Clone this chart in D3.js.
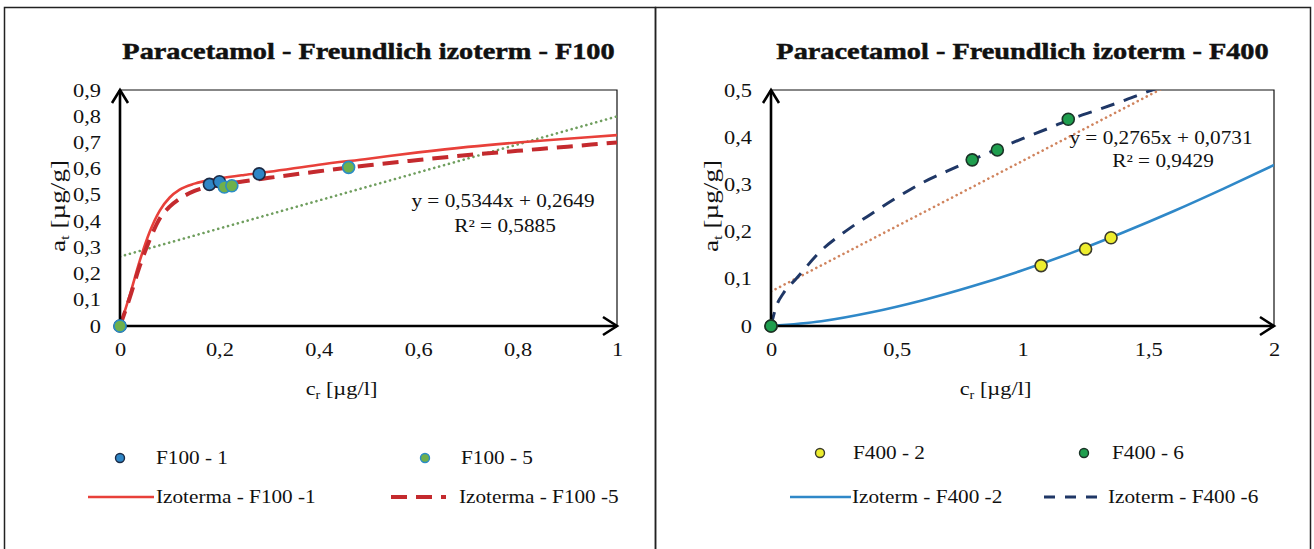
<!DOCTYPE html>
<html><head><meta charset="utf-8">
<script src="https://cdn.jsdelivr.net/npm/d3@7"></script>
<style>body{margin:0;background:#fff}svg{display:block}</style>
</head><body>
<svg id="chart" width="1314" height="549"></svg>
<script>
// ---- F100 panel data ----
const f100XTicks = [0, 0.2, 0.4, 0.6, 0.8, 1];
const f100YTicks = [0, 0.1, 0.2, 0.3, 0.4, 0.5, 0.6, 0.7, 0.8, 0.9];
const f100Series1 = [[0, 0], [0.18, 0.54], [0.2, 0.55], [0.28, 0.58]];
const f100Series5 = [[0, 0], [0.21, 0.53], [0.225, 0.535], [0.46, 0.605]];
const f100Izo1 = [[0,0],[0.02,0.12],[0.04,0.25],[0.06,0.36],[0.08,0.44],[0.1,0.49],[0.12,0.52],[0.15,0.543],[0.2,0.562],[0.25,0.576],[0.3,0.588],[0.4,0.615],[0.5,0.638],[0.6,0.662],[0.7,0.683],[0.8,0.700],[0.9,0.714],[1.0,0.728]];
const f100Izo5 = [[0,0],[0.02,0.11],[0.04,0.23],[0.06,0.33],[0.08,0.41],[0.1,0.455],[0.12,0.485],[0.15,0.515],[0.2,0.537],[0.25,0.552],[0.3,0.565],[0.4,0.59],[0.5,0.613],[0.6,0.633],[0.7,0.652],[0.8,0.668],[0.9,0.684],[1.0,0.70]];
const f100Trend = { slope: 0.5344, intercept: 0.2649, r2: 0.5885 };

// ---- F400 panel data ----
const f400XTicks = [0, 0.5, 1, 1.5, 2];
const f400YTicks = [0, 0.1, 0.2, 0.3, 0.4, 0.5];
const f400Series2 = [[0, 0], [1.074, 0.128], [1.251, 0.163], [1.352, 0.187]];
const f400Series6 = [[0, 0], [0.80, 0.352], [0.90, 0.373], [1.182, 0.438]];
const f400Izo2 = [[0,0],[0.2,0.010],[0.4,0.029],[0.6,0.054],[0.8,0.084],[1.0,0.118],[1.2,0.156],[1.4,0.198],[1.6,0.243],[1.8,0.291],[2.0,0.341]];
const f400Izo6 = [[0,0],[0.02,0.04],[0.05,0.07],[0.1,0.10],[0.2,0.16],[0.3,0.202],[0.4,0.238],[0.5,0.272],[0.6,0.303],[0.7,0.328],[0.8,0.352],[0.9,0.375],[1.0,0.397],[1.1,0.418],[1.2,0.44],[1.3,0.458],[1.4,0.477],[1.5,0.497],[1.6,0.515]];
const f400Trend = { slope: 0.2765, intercept: 0.0731, r2: 0.9429 };

const SERIF = "'Liberation Serif','Times New Roman',serif";
const SX = 1.18; // horizontal glyph stretch used for the labels
const svg = d3.select("#chart");
const fmt = d => String(d).replace(".", ",");

// panel frames
svg.append("rect").attr("x", 4.5).attr("y", 7.5).attr("width", 651).attr("height", 560)
  .attr("fill", "none").attr("stroke", "#222").attr("stroke-width", 1.5);
svg.append("rect").attr("x", 655.5).attr("y", 7.5).attr("width", 655).attr("height", 560)
  .attr("fill", "none").attr("stroke", "#222").attr("stroke-width", 1.5);

function label(g, x, y, str, size, opts = {}) {
  const t = g.append("text")
    .attr("transform", `translate(${x},${y}) scale(${SX},1)`)
    .attr("font-family", SERIF).attr("font-size", size)
    .attr("text-anchor", opts.anchor || "start")
    .attr("font-weight", opts.bold ? "bold" : "normal")
    .attr("fill", "#111");
  if (opts.bold) t.attr("stroke", "#111").attr("stroke-width", 0.5);
  t.text(str);
  return t;
}

function panel(cfg) {
  const g = svg.append("g");
  const x = d3.scaleLinear().domain(cfg.xDomain).range([cfg.x0, cfg.x1]);
  const y = d3.scaleLinear().domain(cfg.yDomain).range([cfg.y1, cfg.y0]);
  const clipId = "clip" + cfg.id;
  svg.append("clipPath").attr("id", clipId).append("rect")
    .attr("x", cfg.x0).attr("y", cfg.y0).attr("width", cfg.x1 - cfg.x0).attr("height", cfg.y1 - cfg.y0);

  // title
  label(g, (cfg.x0 + cfg.x1) / 2, 59, cfg.title, 24, { anchor: "middle", bold: true });

  // plot box (thin top/right edges)
  g.append("path").attr("d", `M${cfg.x0},${cfg.y0}H${cfg.x1}V${cfg.y1}`)
    .attr("fill", "none").attr("stroke", "#111").attr("stroke-width", 1.2);

  // tick labels
  const ax = g.append("g").attr("transform", `translate(${cfg.x0},0)`)
    .call(d3.axisLeft(y).tickValues(cfg.yTicks).tickSize(0).tickPadding(19).tickFormat(fmt));
  const ay = g.append("g").attr("transform", `translate(0,${cfg.y1})`)
    .call(d3.axisBottom(x).tickValues(cfg.xTicks).tickSize(0).tickPadding(17).tickFormat(fmt));
  [ax, ay].forEach(a => {
    a.select(".domain").remove();
    a.selectAll("text").attr("font-family", SERIF).attr("font-size", 19).attr("fill", "#111");
  });
  ax.selectAll("text").attr("x", -19 / SX).attr("transform", `scale(${SX},1)`);
  ay.selectAll("text").attr("transform", `scale(${SX},1)`);

  // axis titles
  const yt = g.append("text")
    .attr("transform", `translate(${cfg.yLabelX},${(cfg.y0 + cfg.y1) / 2 - 2}) rotate(-90)`)
    .attr("font-family", SERIF).attr("font-size", 21).attr("text-anchor", "middle").attr("fill", "#111")
    .attr("textLength", 92).attr("lengthAdjust", "spacingAndGlyphs");
  yt.append("tspan").text("a");
  yt.append("tspan").attr("font-size", 13).attr("dy", 4).text("t");
  yt.append("tspan").attr("dy", -4).text(" [µg/g]");

  const xt = g.append("text")
    .attr("transform", `translate(${(cfg.x0 + cfg.x1) / 2 - 27},395) scale(${SX},1)`)
    .attr("font-family", SERIF).attr("font-size", 19).attr("text-anchor", "middle").attr("fill", "#111");
  xt.append("tspan").text("c");
  xt.append("tspan").attr("font-size", 12).attr("dy", 4).text("r");
  xt.append("tspan").attr("dy", -4).text(" [µg/l]");

  const plot = g.append("g").attr("clip-path", `url(#${clipId})`);
  const line = d3.line().x(d => x(d[0])).y(d => y(d[1])).curve(d3.curveMonotoneX);

  // linear trend line from the stated regression
  const tr = cfg.trend;
  const tx = [cfg.xDomain[0], cfg.xDomain[1]];
  plot.append("path")
    .attr("d", d3.line().x(d => x(d)).y(d => y(tr.slope * d + tr.intercept))(tx))
    .attr("fill", "none").attr("stroke", cfg.trendColor).attr("stroke-width", 2.6)
    .attr("stroke-dasharray", "0.1,5").attr("stroke-linecap", "round");

  cfg.curves.forEach(c => {
    plot.append("path").attr("d", line(c.data)).attr("fill", "none")
      .attr("stroke", c.color).attr("stroke-width", c.width)
      .attr("stroke-dasharray", c.dash || null);
  });

  // axes with open arrowheads
  g.append("path").attr("d", `M${cfg.x0},${cfg.y1 + 1}V${cfg.y0}M${cfg.x0},${cfg.y1}H${cfg.x1}`)
    .attr("stroke", "#000").attr("stroke-width", 2.6).attr("fill", "none");
  g.append("path")
    .attr("d", `M${cfg.x0 - 8},${cfg.y0 + 13}L${cfg.x0},${cfg.y0}L${cfg.x0 + 8},${cfg.y0 + 13}` +
               `M${cfg.x1 - 14},${cfg.y1 - 9}L${cfg.x1},${cfg.y1}L${cfg.x1 - 14},${cfg.y1 + 9}`)
    .attr("stroke", "#000").attr("stroke-width", 2.6).attr("fill", "none");

  // markers
  cfg.points.forEach(p => {
    g.append("g").selectAll("circle").data(p.data).join("circle")
      .attr("cx", d => x(d[0])).attr("cy", d => y(d[1])).attr("r", 6)
      .attr("fill", p.fill).attr("stroke", p.stroke).attr("stroke-width", 1.6);
  });

  // regression equation
  label(g, cfg.eqX, cfg.eqY, `y = ${fmt(tr.slope)}x + ${fmt(tr.intercept)}`, 18, { anchor: "middle" });
  label(g, cfg.eqX + 2, cfg.eqY + cfg.eqGap, `R² = ${fmt(tr.r2)}`, 18, { anchor: "middle" });

  // legend
  const lg = g.append("g");
  cfg.legend.forEach(it => {
    if (it.type === "dot") {
      lg.append("circle").attr("cx", it.sx).attr("cy", it.y).attr("r", 4.5)
        .attr("fill", it.fill).attr("stroke", it.stroke).attr("stroke-width", 1.4);
    } else {
      lg.append("line").attr("x1", it.sx).attr("x2", it.ex).attr("y1", it.y).attr("y2", it.y)
        .attr("stroke", it.color).attr("stroke-width", it.width).attr("stroke-dasharray", it.dash || null);
    }
    label(lg, it.tx, it.y + 6, it.text, 18);
  });
}

panel({
  id: "F100", title: "Paracetamol - Freundlich izoterm - F100",
  x0: 120, x1: 617, y0: 90, y1: 326, xDomain: [0, 1], yDomain: [0, 0.9],
  xTicks: f100XTicks, yTicks: f100YTicks, yLabelX: 65,
  trend: f100Trend, trendColor: "#6f9e5e",
  curves: [
    { data: f100Izo1, color: "#e8403a", width: 2.6 },
    { data: f100Izo5, color: "#c42a2e", width: 4, dash: "16,9" }
  ],
  points: [
    { data: f100Series1, fill: "#2f86c6", stroke: "#1b2a45" },
    { data: f100Series5, fill: "#6fb04c", stroke: "#2a8cc6" }
  ],
  eqX: 503, eqY: 207, eqGap: 25,
  legend: [
    { type: "dot", sx: 120, y: 458, fill: "#2f86c6", stroke: "#1b2a45", tx: 156, text: "F100 - 1" },
    { type: "dot", sx: 425, y: 458, fill: "#6fb04c", stroke: "#2a8cc6", tx: 461, text: "F100 - 5" },
    { type: "line", sx: 88, ex: 154, y: 497, color: "#e8403a", width: 2.6, tx: 156, text: "Izoterma - F100 -1" },
    { type: "line", sx: 391, ex: 446, y: 497, color: "#c42a2e", width: 4, dash: "16,9", tx: 459, text: "Izoterma - F100 -5" }
  ]
});

panel({
  id: "F400", title: "Paracetamol - Freundlich izoterm - F400",
  x0: 771, x1: 1274, y0: 90, y1: 326, xDomain: [0, 2], yDomain: [0, 0.5],
  xTicks: f400XTicks, yTicks: f400YTicks, yLabelX: 718,
  trend: f400Trend, trendColor: "#d0845e",
  curves: [
    { data: f400Izo2, color: "#2f88c8", width: 2.6 },
    { data: f400Izo6, color: "#1f3766", width: 3, dash: "14,10" }
  ],
  points: [
    { data: f400Series2, fill: "#eded2e", stroke: "#3a3a2a" },
    { data: f400Series6, fill: "#1f9e4e", stroke: "#1a3326" }
  ],
  eqX: 1161, eqY: 144, eqGap: 23,
  legend: [
    { type: "dot", sx: 820, y: 453, fill: "#eded2e", stroke: "#3a3a2a", tx: 853, text: "F400 - 2" },
    { type: "dot", sx: 1084, y: 453, fill: "#1f9e4e", stroke: "#1a3326", tx: 1112, text: "F400 - 6" },
    { type: "line", sx: 790, ex: 851, y: 497, color: "#2f88c8", width: 2.6, tx: 852, text: "Izoterm - F400 -2" },
    { type: "line", sx: 1044, ex: 1107, y: 497, color: "#1f3766", width: 3, dash: "11,10", tx: 1108, text: "Izoterm - F400 -6" }
  ]
});
</script>
</body></html>
